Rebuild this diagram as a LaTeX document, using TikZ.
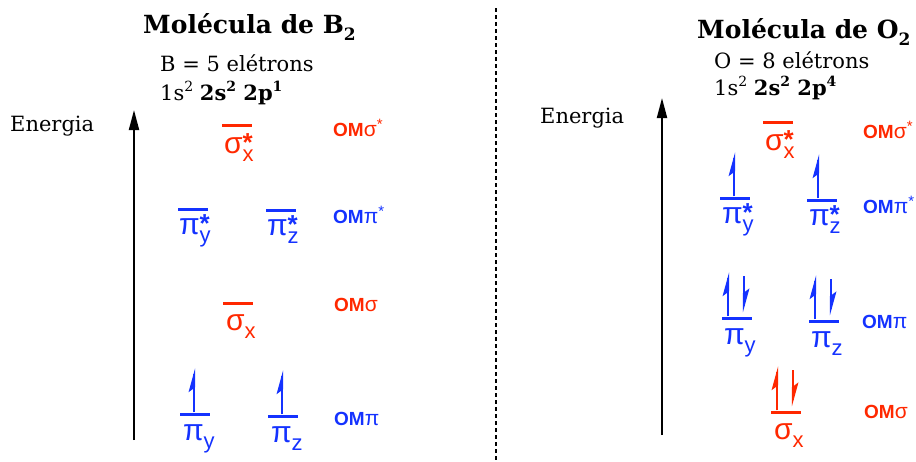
\documentclass[tikz,border=0pt]{standalone}
\usepackage{fontspec}
\setmainfont{DejaVu Serif}
\setsansfont{Liberation Sans}
\usetikzlibrary{arrows.meta}
\definecolor{omred}{RGB}{255,40,0}
\definecolor{omblue}{RGB}{20,50,255}
\newcommand{\orb}[3]{#1\makebox[0pt][l]{\raisebox{2pt}{\bfseries\fontsize{26}{26}\selectfont #2}}\raisebox{-8pt}{\fontsize{22}{22}\selectfont #3}}
\newcommand{\sups}[1]{\raisebox{0.42em}{\fontsize{14}{14}\selectfont #1}}
\newcommand{\omlab}[2]{\textbf{OM}{\fontsize{21}{21}\selectfont #1}\raisebox{0.35em}{\fontsize{15}{15}\selectfont #2}}
\tikzset{
  x=1pt, y=-1pt,
  lvl/.style={fill, draw=none, minimum width=30pt, minimum height=3pt, inner sep=0pt},
  elec/.style={line width=2.2pt},
  lab/.style={font=\sffamily\fontsize{30}{30}\selectfont, inner sep=0pt, anchor=base west},
  om/.style={font=\sffamily\fontsize{19}{19}\selectfont, inner sep=0pt, anchor=west},
  txt/.style={font=\fontsize{21}{21}\selectfont, inner sep=0pt, anchor=west},
  ttl/.style={font=\bfseries\fontsize{25}{25}\selectfont, inner sep=0pt, anchor=west},
  energy/.style={line width=2pt, -{Triangle[length=20pt,width=10pt]}},
  eup/.pic={\draw[elec] (0,0) -- (0,-38);
            \fill (1.1,-44) -- (-5.5,-20) -- (1.1,-25) -- cycle;},
  edown/.pic={\draw[elec] (0,-40) -- (0,-10);
            \fill (-1.1,-4) -- (5.5,-28) -- (-1.1,-23) -- cycle;},
}
\begin{document}
\begin{tikzpicture}
\useasboundingbox (0,0) rectangle (916,461);
% divider
\coordinate (dtop) at (496,8);
\coordinate (dbot) at (496,461);
\draw[line width=1.3pt, dash pattern=on 4pt off 3pt] (dtop) -- (dbot);

% ===== B2 =====
\node[ttl] (t1) at (143,27) {Molécula de B\raisebox{-0.3em}{\fontsize{17}{17}\selectfont 2}};
\node[txt] (b1) at (160,63) {B = 5 elétrons};
\node[txt] (b2) at (160,93) {1s\sups{2} \textbf{2s\sups{2} 2p\sups{1}}};
\node[txt] (en1) at (10,126) {Energia};
\coordinate (a1b) at (134,440);
\coordinate (a1t) at (134,110);
\draw[energy] (a1b) -- (a1t);

% sigma* x
\node[lvl, omred] (B1) at (237,125) {};
\node[lab, omred] (B1l) at ([xshift=2pt,yshift=-28pt]B1.west) {\orb{σ}{*}{x}};
\node[om, omred] (B1o) at (333,128) {\omlab{σ}{*}};
% pi*
\node[lvl, omblue] (B2y) at (193,209) {};
\node[lab, omblue] (B2yl) at ([xshift=1pt,yshift=-25pt]B2y.west) {\orb{π}{*}{y}};
\node[lvl, omblue] (B2z) at (281,210) {};
\node[lab, omblue] (B2zl) at ([xshift=1pt,yshift=-25pt]B2z.west) {\orb{π}{*}{z}};
\node[om, omblue] (B2o) at (333,215) {\omlab{π}{*}};
% sigma x
\node[lvl, omred] (B3) at (238,303) {};
\node[lab, omred] (B3l) at ([xshift=3pt,yshift=-27pt]B3.west) {\orb{σ}{}{x}};
\node[om, omred] (B3o) at (334,305) {\omlab{σ}{}};
% pi
\node[lvl, omblue] (B4y) at (195,414) {};
\node[lab, omblue] (B4yl) at ([xshift=3pt,yshift=-26pt]B4y.west) {\orb{π}{}{y}};
\node[lvl, omblue] (B4z) at (283,416) {};
\node[lab, omblue] (B4zl) at ([xshift=3pt,yshift=-26pt]B4z.west) {\orb{π}{}{z}};
\node[om, omblue] (B4o) at (334,419) {\omlab{π}{}};
\pic[omblue] at ([xshift=-1pt]B4y.north) {eup};
\pic[omblue] at ([xshift=-1pt]B4z.north) {eup};

% ===== O2 =====
\node[ttl] (t2) at (697,32) {Molécula de O\raisebox{-0.3em}{\fontsize{17}{17}\selectfont 2}};
\node[txt] (o1) at (714,60) {O = 8 elétrons};
\node[txt] (o2) at (714,88) {1s\sups{2} \textbf{2s\sups{2} 2p\sups{4}}};
\node[txt] (en2) at (540,118) {Energia};
\coordinate (a2b) at (662,435);
\coordinate (a2t) at (662,98);
\draw[energy] (a2b) -- (a2t);

% sigma* x
\node[lvl, omred] (O1) at (778,122) {};
\node[lab, omred] (O1l) at ([xshift=2pt,yshift=-28pt]O1.west) {\orb{σ}{*}{x}};
\node[om, omred] (O1o) at (863,130) {\omlab{σ}{*}};
% pi*
\node[lvl, omblue] (O2y) at (735,198) {};
\node[lab, omblue] (O2yl) at ([xshift=2pt,yshift=-25pt]O2y.west) {\orb{π}{*}{y}};
\node[lvl, omblue] (O2z) at (822,200) {};
\node[lab, omblue] (O2zl) at ([xshift=2pt,yshift=-25pt]O2z.west) {\orb{π}{*}{z}};
\node[om, omblue] (O2o) at (863,205) {\omlab{π}{*}};
\pic[omblue] at ([xshift=-1pt]O2y.north) {eup};
\pic[omblue] at ([xshift=-4pt]O2z.north) {eup};
% pi
\node[lvl, omblue] (O3y) at (737,318) {};
\node[lab, omblue] (O3yl) at ([xshift=2pt,yshift=-26pt]O3y.west) {\orb{π}{}{y}};
\node[lvl, omblue] (O3z) at (824,321) {};
\node[lab, omblue] (O3zl) at ([xshift=2pt,yshift=-26pt]O3z.west) {\orb{π}{}{z}};
\node[om, omblue] (O3o) at (862,322) {\omlab{π}{}};
\pic[omblue] at ([xshift=-9pt]O3y.north) {eup};
\pic[omblue] at ([xshift=7pt]O3y.north) {edown};
\pic[omblue] at ([xshift=-9pt]O3z.north) {eup};
\pic[omblue] at ([xshift=7pt]O3z.north) {edown};
% sigma x
\node[lvl, omred] (O4) at (786,412) {};
\node[lab, omred] (O4l) at ([xshift=3pt,yshift=-27pt]O4.west) {\orb{σ}{}{x}};
\node[om, omred] (O4o) at (864,412) {\omlab{σ}{}};
\pic[omred] at ([xshift=-9pt]O4.north) {eup};
\pic[omred] at ([xshift=7pt]O4.north) {edown};
\end{tikzpicture}
\end{document}
